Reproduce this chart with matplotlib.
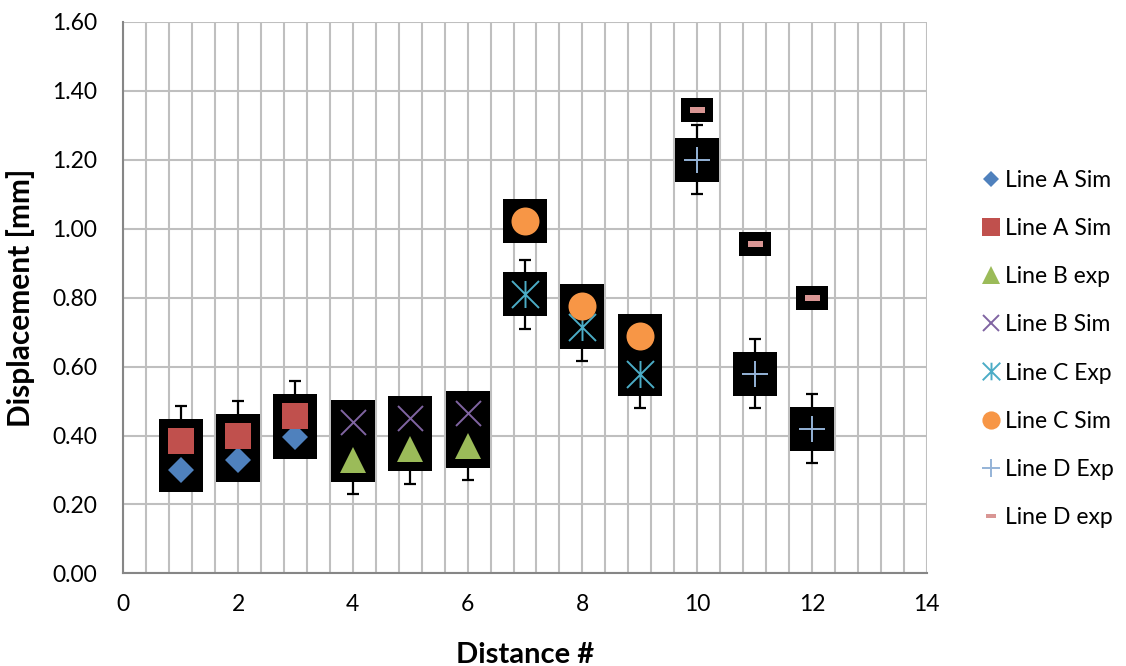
import matplotlib
matplotlib.use("Agg")
import matplotlib.pyplot as plt
from matplotlib.path import Path
from matplotlib.ticker import MultipleLocator, FormatStrFormatter

plt.rcParams['font.family'] = ['Lato', 'DejaVu Sans']

# Measurement positions and displacements [mm]
dist_a = [1, 2, 3]
a_sim_1 = [0.30, 0.33, 0.395]
a_sim_2 = [0.385, 0.40, 0.457]

dist_b = [4, 5, 6]
b_exp = [0.33, 0.36, 0.37]
b_sim = [0.44, 0.45, 0.466]

dist_c = [7, 8, 9]
c_exp = [0.81, 0.715, 0.58]
c_sim = [1.023, 0.776, 0.69]

dist_d = [10, 11, 12]
d_exp = [1.20, 0.58, 0.42]
d_exp_2 = [1.345, 0.955, 0.80]

err = 0.1

labels = ["Line A Sim", "Line A Sim", "Line B exp", "Line B Sim",
          "Line C Exp", "Line C Sim", "Line D Exp", "Line D exp"]
colors = ["#4F81BD", "#C0504D", "#9BBB59", "#8064A2",
          "#4BACC6", "#F79646", "#95B3D7", "#D99694"]

# custom markers: asterisk (X plus vertical bar), flat dash, wide box
M, L = Path.MOVETO, Path.LINETO
asterisk = Path([(0, -1), (0, 1), (-1, -1), (1, 1), (-1, 1), (1, -1)],
                [M, L, M, L, M, L])
dash = Path([(-1, -0.45), (1, -0.45), (1, 0.45), (-1, 0.45), (-1, -0.45)],
            [M, L, L, L, Path.CLOSEPOLY])
dash_box = Path([(-1, -0.78), (1, -0.78), (1, 0.78), (-1, 0.78), (-1, -0.78)],
                [M, L, L, L, Path.CLOSEPOLY])

px = 72 / 100.0  # points per pixel at 100 dpi

fig = plt.figure(figsize=(11.26, 6.66), dpi=100)
ax = fig.add_axes([0.1095, 0.139, 0.7135, 0.828])

series = [
    (dist_a, a_sim_1, 'D', 18.4, False),
    (dist_a, a_sim_2, 's', 27, True),
    (dist_b, b_exp, '^', 27, True),
    (dist_b, b_sim, 'x', 25, False),
    (dist_c, c_exp, asterisk, 27, True),
    (dist_c, c_sim, 'o', 28, False),
    (dist_d, d_exp, '+', 27, True),
    (dist_d, d_exp_2, dash, 15, False),
]

# error bars (drawn first, partly hidden by the dark marker boxes)
for xs, ys, mk, ms, has_err in series:
    if has_err:
        ax.errorbar(xs, ys, yerr=err, fmt='none', ecolor='black',
                    elinewidth=1.6, capsize=4, capthick=1.6, zorder=2)

# dark background boxes behind every marker
for xs, ys, mk, ms, has_err in series:
    if mk is dash:
        ax.plot(xs, ys, linestyle='none', marker=dash_box, ms=32 * px,
                mfc='black', mec='black', mew=0, zorder=3)
    else:
        ax.plot(xs, ys, linestyle='none', marker='s', ms=44 * px,
                mfc='black', mec='black', mew=0, zorder=3)

handles = []
for (xs, ys, mk, ms, has_err), lab, col in zip(series, labels, colors):
    line_marker = mk in ('x', '+') or mk is asterisk
    h, = ax.plot(xs, ys, linestyle='none', marker=mk, ms=ms * px,
                 mfc=col, mec=col, mew=1.4 if line_marker else 0,
                 label=lab, zorder=4)
    handles.append(h)

ax.set_xlim(0, 14)
ax.set_ylim(0, 1.6)
ax.xaxis.set_major_locator(MultipleLocator(2))
ax.xaxis.set_minor_locator(MultipleLocator(0.4))
ax.yaxis.set_major_locator(MultipleLocator(0.2))
ax.yaxis.set_major_formatter(FormatStrFormatter('%.2f'))

ax.set_axisbelow(True)
ax.grid(True, which='major', color='#BFBFBF', linewidth=1.5)
ax.grid(True, which='minor', axis='x', color='#BFBFBF', linewidth=1.5)
ax.tick_params(which='both', length=0, labelsize=16.5, colors='black')
ax.tick_params(axis='y', pad=19)
ax.tick_params(axis='x', pad=15)

for side in ('top', 'right'):
    ax.spines[side].set_visible(False)
for side in ('left', 'bottom'):
    ax.spines[side].set_color('#868686')
    ax.spines[side].set_linewidth(1.5)

ax.set_xlabel("Distance #", fontsize=21, fontweight='bold', labelpad=19)
ax.set_ylabel("Displacement [mm]", fontsize=21.5, fontweight='bold', labelpad=12)

fig.legend(handles=handles, labels=labels, loc='center left',
           bbox_to_anchor=(0.865, 0.476), frameon=False, fontsize=16.5,
           markerscale=0.65, handlelength=0.7, handletextpad=0.25,
           labelspacing=1.18, borderaxespad=0)

fig.savefig("out.png", dpi=100)
